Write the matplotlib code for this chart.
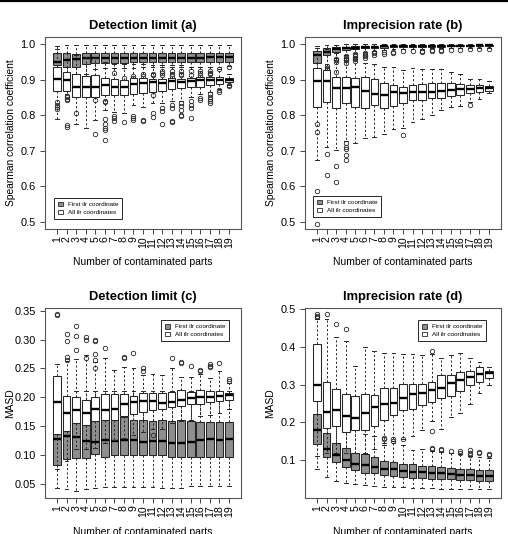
import matplotlib
matplotlib.use("Agg")
import matplotlib.pyplot as plt
from matplotlib.patches import Patch
from matplotlib.lines import Line2D

plt.rcParams['font.family'] = ['Liberation Sans', 'DejaVu Sans']

parts = list(range(1, 20))
legend_labels = ["First ilr coordinate", "All ilr coordinates"]
titles = ["Detection limit (a)", "Imprecision rate (b)", "Detection limit (c)", "Imprecision rate (d)"]
ylabels = ["Spearman correlation coefficient", "Spearman correlation coefficient", "MASD", "MASD"]
xlabel = "Number of contaminated parts"

# box stats per part: (lower whisker, q1, median, q3, upper whisker)
a_first = [(0.905, 0.941, 0.951, 0.974, 0.996), (0.905, 0.936, 0.955, 0.976, 0.997),
           (0.910, 0.937, 0.958, 0.972, 0.997), (0.915, 0.944, 0.960, 0.975, 0.997),
           (0.930, 0.948, 0.962, 0.975, 0.997), (0.932, 0.948, 0.962, 0.975, 0.998),
           (0.932, 0.948, 0.962, 0.975, 0.998), (0.933, 0.948, 0.962, 0.975, 0.998),
           (0.934, 0.949, 0.962, 0.975, 0.998), (0.935, 0.950, 0.962, 0.975, 0.998),
           (0.936, 0.950, 0.962, 0.974, 0.998), (0.937, 0.951, 0.962, 0.974, 0.998),
           (0.937, 0.951, 0.962, 0.974, 0.998), (0.937, 0.951, 0.962, 0.974, 0.998),
           (0.937, 0.951, 0.962, 0.974, 0.998), (0.937, 0.951, 0.962, 0.974, 0.998),
           (0.937, 0.951, 0.963, 0.975, 0.998), (0.937, 0.951, 0.963, 0.975, 0.998),
           (0.938, 0.951, 0.963, 0.975, 0.998)]
a_first_out = [[], [], [], [], [0.842], [0.840, 0.836], [0.920], [0.905], [0.910, 0.905],
               [0.915, 0.910], [0.915, 0.912], [0.925, 0.918, 0.914], [0.925, 0.915, 0.910],
               [0.925, 0.915, 0.912], [0.925, 0.912], [0.925, 0.918, 0.914], [0.925, 0.920, 0.915],
               [0.930], [0.935]]
a_all = [(0.790, 0.868, 0.901, 0.935, 0.985), (0.860, 0.868, 0.899, 0.921, 0.975),
         (0.775, 0.852, 0.880, 0.917, 0.970), (0.764, 0.851, 0.880, 0.910, 0.965),
         (0.787, 0.851, 0.880, 0.914, 0.960), (0.815, 0.858, 0.884, 0.905, 0.950),
         (0.810, 0.858, 0.880, 0.903, 0.945), (0.806, 0.857, 0.880, 0.900, 0.945),
         (0.830, 0.860, 0.888, 0.905, 0.945), (0.822, 0.863, 0.890, 0.905, 0.945),
         (0.835, 0.865, 0.893, 0.903, 0.940), (0.835, 0.869, 0.892, 0.903, 0.940),
         (0.840, 0.875, 0.895, 0.905, 0.940), (0.840, 0.877, 0.894, 0.903, 0.940),
         (0.850, 0.880, 0.895, 0.905, 0.935), (0.860, 0.880, 0.899, 0.908, 0.935),
         (0.865, 0.884, 0.899, 0.908, 0.935), (0.875, 0.889, 0.899, 0.907, 0.930),
         (0.885, 0.893, 0.899, 0.905, 0.915)]
a_all_out = [[0.836, 0.830, 0.824, 0.818], [0.855, 0.851, 0.847, 0.843, 0.772, 0.766], [0.806], [],
             [0.747], [0.789, 0.776, 0.765, 0.758, 0.730], [0.797, 0.792, 0.785], [0.782],
             [0.797, 0.792, 0.787], [0.787, 0.783], [0.858, 0.806, 0.795], [0.820, 0.812, 0.776],
             [0.830, 0.820, 0.785, 0.780], [0.835, 0.825, 0.815, 0.802, 0.797],
             [0.840, 0.830, 0.820, 0.792], [0.848, 0.843], [0.860, 0.852, 0.846, 0.840, 0.835],
             [0.870, 0.866], [0.884, 0.882]]

b_first = [(0.920, 0.948, 0.969, 0.981, 0.995), (0.945, 0.969, 0.979, 0.988, 0.997),
           (0.962, 0.978, 0.986, 0.991, 0.998), (0.970, 0.983, 0.989, 0.993, 0.999),
           (0.975, 0.986, 0.990, 0.994, 0.999), (0.978, 0.988, 0.992, 0.995, 0.999),
           (0.982, 0.989, 0.993, 0.996, 0.999), (0.983, 0.990, 0.994, 0.996, 0.999),
           (0.985, 0.991, 0.994, 0.997, 0.999), (0.986, 0.992, 0.995, 0.997, 0.999),
           (0.987, 0.993, 0.995, 0.997, 0.999), (0.987, 0.993, 0.995, 0.997, 0.999),
           (0.988, 0.993, 0.996, 0.998, 0.999), (0.988, 0.993, 0.996, 0.998, 0.999),
           (0.989, 0.994, 0.996, 0.998, 0.999), (0.989, 0.994, 0.996, 0.998, 0.999),
           (0.990, 0.994, 0.996, 0.998, 0.999), (0.990, 0.995, 0.997, 0.998, 0.999),
           (0.990, 0.995, 0.997, 0.998, 0.999)]
b_first_out = [[], [0.938, 0.934, 0.930], [0.958, 0.954, 0.950, 0.922],
               [0.966, 0.962, 0.958, 0.954, 0.948], [0.972, 0.967, 0.962, 0.957, 0.953],
               [0.975, 0.970, 0.966, 0.962], [0.978, 0.974, 0.970], [0.977, 0.972],
               [0.978, 0.975], [0.980], [0.982], [0.982, 0.979], [0.983, 0.980], [0.983, 0.980],
               [0.984], [0.984], [0.985], [0.985], [0.986]]
b_all = [(0.675, 0.824, 0.895, 0.934, 0.990), (0.712, 0.838, 0.895, 0.927, 0.985),
         (0.703, 0.821, 0.877, 0.908, 0.975), (0.728, 0.833, 0.876, 0.908, 0.970),
         (0.722, 0.824, 0.879, 0.905, 0.965), (0.737, 0.819, 0.868, 0.908, 0.948),
         (0.738, 0.830, 0.860, 0.901, 0.945), (0.746, 0.821, 0.856, 0.891, 0.935),
         (0.762, 0.827, 0.864, 0.884, 0.935), (0.765, 0.833, 0.862, 0.880, 0.928),
         (0.780, 0.842, 0.866, 0.884, 0.933), (0.790, 0.844, 0.865, 0.887, 0.930),
         (0.800, 0.849, 0.866, 0.891, 0.930), (0.815, 0.849, 0.868, 0.891, 0.930),
         (0.822, 0.854, 0.872, 0.891, 0.922), (0.827, 0.858, 0.874, 0.887, 0.915),
         (0.838, 0.863, 0.874, 0.884, 0.901), (0.845, 0.866, 0.876, 0.884, 0.901),
         (0.862, 0.869, 0.876, 0.882, 0.895)]
b_all_out = [[0.776, 0.752, 0.586, 0.493], [0.692, 0.632], [0.657, 0.611],
             [0.722, 0.712, 0.705, 0.688, 0.675], [], [], [], [], [], [0.745],
             [], [], [], [], [], [], [0.830], [], []]

c_first = [(0.043, 0.083, 0.128, 0.138, 0.200), (0.041, 0.093, 0.132, 0.142, 0.200),
           (0.037, 0.095, 0.131, 0.155, 0.210), (0.041, 0.095, 0.124, 0.151, 0.210),
           (0.043, 0.101, 0.122, 0.158, 0.210), (0.044, 0.096, 0.125, 0.160, 0.210),
           (0.044, 0.100, 0.124, 0.161, 0.210), (0.044, 0.099, 0.125, 0.165, 0.210),
           (0.044, 0.099, 0.125, 0.160, 0.210), (0.044, 0.100, 0.123, 0.160, 0.210),
           (0.044, 0.100, 0.124, 0.158, 0.210), (0.043, 0.100, 0.124, 0.161, 0.210),
           (0.043, 0.097, 0.120, 0.158, 0.210), (0.043, 0.097, 0.120, 0.161, 0.210),
           (0.045, 0.097, 0.123, 0.158, 0.210), (0.045, 0.097, 0.126, 0.157, 0.210),
           (0.045, 0.097, 0.127, 0.157, 0.210), (0.045, 0.096, 0.126, 0.157, 0.210),
           (0.045, 0.097, 0.128, 0.157, 0.210)]
c_first_out = [[] for _ in parts]
c_all = [(0.075, 0.137, 0.191, 0.2375, 0.258), (0.090, 0.142, 0.173, 0.203, 0.263),
         (0.110, 0.155, 0.178, 0.200, 0.267), (0.110, 0.151, 0.173, 0.195, 0.274),
         (0.112, 0.158, 0.180, 0.200, 0.262), (0.120, 0.160, 0.178, 0.205, 0.268),
         (0.125, 0.161, 0.180, 0.206, 0.248), (0.130, 0.168, 0.188, 0.205, 0.252),
         (0.135, 0.171, 0.192, 0.203, 0.250), (0.140, 0.174, 0.194, 0.207, 0.238),
         (0.145, 0.178, 0.193, 0.207, 0.240), (0.145, 0.180, 0.190, 0.207, 0.238),
         (0.155, 0.183, 0.192, 0.209, 0.250), (0.158, 0.184, 0.196, 0.212, 0.236),
         (0.160, 0.188, 0.198, 0.209, 0.235), (0.168, 0.188, 0.201, 0.212, 0.240),
         (0.170, 0.191, 0.201, 0.210, 0.234), (0.172, 0.194, 0.203, 0.210, 0.245),
         (0.180, 0.195, 0.204, 0.207, 0.225)]
c_all_out = [[0.344, 0.342], [0.265, 0.270, 0.298, 0.310], [0.282, 0.306, 0.323],
             [0.268, 0.300, 0.305], [0.250, 0.265, 0.275, 0.298, 0.300], [0.285], [],
             [0.270, 0.268], [0.276], [0.250, 0.245], [0.135], [], [0.268], [0.262, 0.260],
             [0.255], [0.248, 0.245], [0.258, 0.255, 0.252], [0.260], [0.232, 0.228]]

d_first = [(0.078, 0.144, 0.179, 0.223, 0.300), (0.055, 0.109, 0.131, 0.173, 0.240),
           (0.045, 0.095, 0.115, 0.146, 0.220), (0.040, 0.082, 0.100, 0.133, 0.200),
           (0.037, 0.074, 0.091, 0.120, 0.180), (0.034, 0.067, 0.087, 0.116, 0.170),
           (0.031, 0.065, 0.082, 0.109, 0.165), (0.030, 0.060, 0.078, 0.097, 0.145),
           (0.030, 0.059, 0.076, 0.096, 0.145), (0.028, 0.056, 0.072, 0.091, 0.140),
           (0.027, 0.053, 0.069, 0.089, 0.128), (0.026, 0.052, 0.068, 0.086, 0.130),
           (0.026, 0.051, 0.066, 0.084, 0.125), (0.025, 0.050, 0.065, 0.083, 0.122),
           (0.025, 0.049, 0.063, 0.080, 0.118), (0.024, 0.048, 0.062, 0.078, 0.116),
           (0.024, 0.047, 0.060, 0.076, 0.110), (0.023, 0.046, 0.059, 0.075, 0.108),
           (0.023, 0.045, 0.057, 0.073, 0.105)]
d_first_out = [[], [], [], [], [], [], [], [0.155, 0.160], [0.150, 0.155], [0.155], [], [],
               [0.132, 0.130], [0.130, 0.127], [0.125], [0.125, 0.120], [0.127, 0.120, 0.115],
               [0.123, 0.120], [0.117, 0.115]]
d_all = [(0.110, 0.256, 0.298, 0.409, 0.475), (0.120, 0.185, 0.228, 0.307, 0.475),
         (0.120, 0.190, 0.232, 0.289, 0.425), (0.120, 0.176, 0.217, 0.276, 0.415),
         (0.120, 0.179, 0.212, 0.269, 0.350), (0.120, 0.179, 0.226, 0.276, 0.400),
         (0.130, 0.190, 0.242, 0.273, 0.388), (0.140, 0.207, 0.249, 0.292, 0.385),
         (0.150, 0.220, 0.251, 0.292, 0.383), (0.155, 0.232, 0.264, 0.302, 0.380),
         (0.165, 0.236, 0.276, 0.302, 0.380), (0.180, 0.245, 0.278, 0.302, 0.378),
         (0.205, 0.254, 0.285, 0.307, 0.380), (0.183, 0.264, 0.292, 0.326, 0.370),
         (0.215, 0.271, 0.304, 0.326, 0.378), (0.225, 0.283, 0.313, 0.333, 0.385),
         (0.250, 0.300, 0.320, 0.337, 0.370), (0.278, 0.307, 0.327, 0.346, 0.360),
         (0.300, 0.318, 0.330, 0.336, 0.348)]
d_all_out = [[0.487, 0.483, 0.480], [0.488], [0.460], [0.447], [], [], [], [], [], [], [], [],
             [0.390, 0.178], [], [], [], [], [], []]

ylims = [(0.48, 1.02), (0.48, 1.02), (0.025, 0.355), (0.0, 0.503)]
yticks = [[0.5, 0.6, 0.7, 0.8, 0.9, 1.0], [0.5, 0.6, 0.7, 0.8, 0.9, 1.0],
          [0.05, 0.10, 0.15, 0.20, 0.25, 0.30, 0.35], [0.1, 0.2, 0.3, 0.4, 0.5]]
yfmt = ["{:.1f}", "{:.1f}", "{:.2f}", "{:.1f}"]

W, H = 508, 534
# axes boxes in pixels: left, top, right, bottom
boxes_px = [(45, 37, 241, 229), (305, 37, 501, 229), (45, 308, 241, 498), (305, 308, 501, 498)]
legend_loc = [("lower left", (9 / 196, 10 / 192)), ("lower left", (8 / 196, 12 / 192)),
              ("upper right", (1 - 12 / 196, 1 - 12 / 190)), ("upper right", (1 - 15 / 196, 1 - 12 / 190))]

gray = '#8e8e8e'
ink = '#262626'


def stats(boxes, outs):
    return [dict(whislo=b[0], q1=b[1], med=b[2], q3=b[3], whishi=b[4], fliers=o)
            for b, o in zip(boxes, outs)]


def draw(ax, boxes, outs, face, z):
    ax.bxp(stats(boxes, outs), positions=parts, widths=0.8, capwidths=0.4,
           patch_artist=True, manage_ticks=False, zorder=z,
           boxprops=dict(facecolor=face, edgecolor=ink, linewidth=0.75),
           whiskerprops=dict(color=ink, linewidth=0.7, linestyle=(0, (2.2, 2.2))),
           capprops=dict(color=ink, linewidth=0.7),
           medianprops=dict(color='black', linewidth=1.7, solid_capstyle='butt'),
           flierprops=dict(marker='o', markersize=3.2, markerfacecolor='none',
                           markeredgecolor=ink, markeredgewidth=0.6))


fig = plt.figure(figsize=(W / 100, H / 100), dpi=100)
fig.add_artist(Line2D([0, 1], [1 - 1.3 / H, 1 - 1.3 / H], color='black', linewidth=1.6))

panels = [(a_first, a_first_out, a_all, a_all_out), (b_first, b_first_out, b_all, b_all_out),
          (c_first, c_first_out, c_all, c_all_out), (d_first, d_first_out, d_all, d_all_out)]

for i, (f, fo, al, ao) in enumerate(panels):
    l, t, r, b = boxes_px[i]
    ax = fig.add_axes([l / W, 1 - b / H, (r - l) / W, (b - t) / H])
    draw(ax, f, fo, gray, 2)
    draw(ax, al, ao, 'white', 3)
    ax.set_xlim(-0.26, 20.26)
    ax.set_ylim(*ylims[i])
    ax.set_xticks(parts)
    ax.set_xticklabels([str(p) for p in parts], rotation=90, fontsize=7.6)
    ax.set_yticks(yticks[i])
    ax.set_yticklabels([yfmt[i].format(v) for v in yticks[i]], fontsize=7.9)
    ax.tick_params(axis='x', length=3.6, width=0.6, pad=1.8, color=ink)
    ax.tick_params(axis='y', length=3.6, width=0.6, pad=3.0, color=ink)
    for s in ax.spines.values():
        s.set_color('#555555')
        s.set_linewidth(0.8)
    ax.set_title(titles[i], fontsize=9.3, fontweight='bold', pad=6)
    ax.set_xlabel(xlabel, fontsize=7.5)
    ax.set_ylabel(ylabels[i], fontsize=7.4)
    ax.xaxis.set_label_coords(0.5, -0.145 if i < 2 else -0.152)
    ax.yaxis.set_label_coords(-0.15, 0.5)
    handles = [Patch(facecolor=gray, edgecolor=ink, linewidth=0.6),
               Patch(facecolor='white', edgecolor=ink, linewidth=0.6)]
    loc, anchor = legend_loc[i]
    leg = ax.legend(handles, legend_labels, loc=loc, bbox_to_anchor=anchor, borderaxespad=0,
                    fontsize=4.6, handlelength=0.75, handleheight=0.75, handletextpad=0.8,
                    borderpad=0.6, labelspacing=0.35, fancybox=False, framealpha=1)
    leg.get_frame().set_edgecolor(ink)
    leg.get_frame().set_linewidth(0.7)
    leg.set_zorder(5)

fig.savefig("out.png", dpi=100)
